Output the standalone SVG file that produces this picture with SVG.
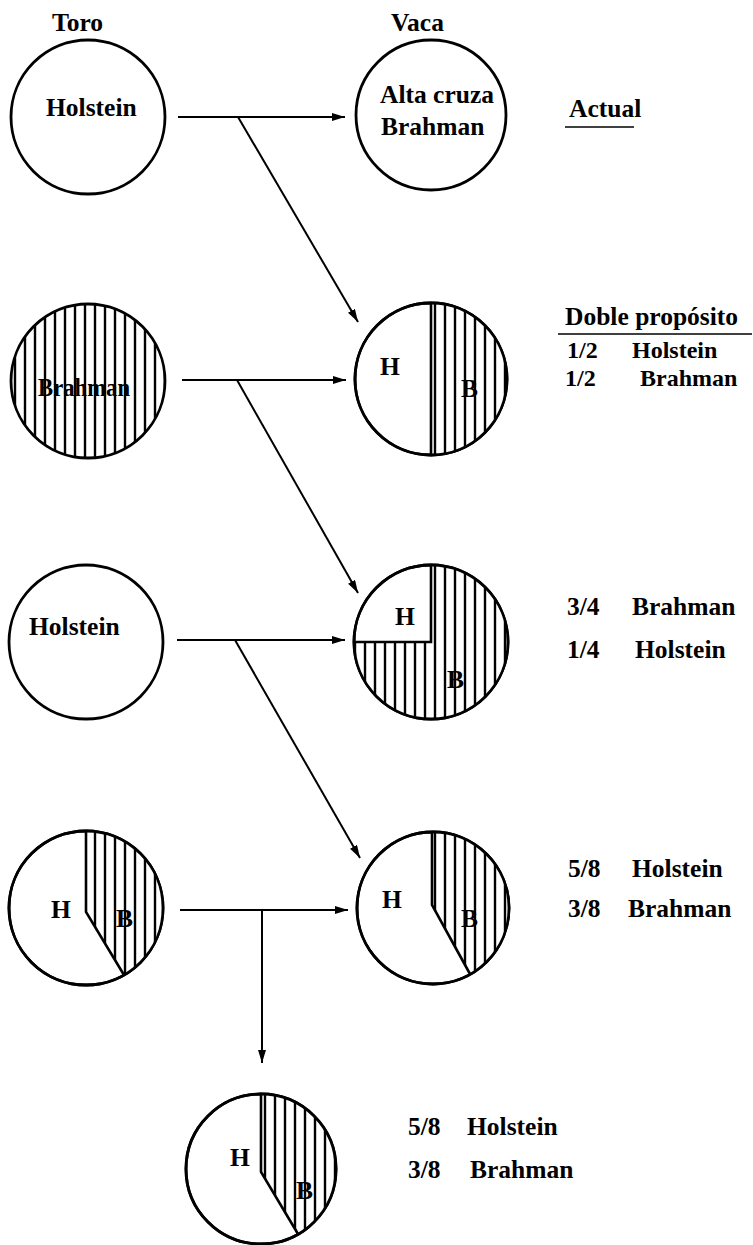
<svg xmlns="http://www.w3.org/2000/svg" width="753" height="1245" viewBox="0 0 753 1245">
<style>
.c{fill:#fff;stroke:#000;stroke-width:2.8}
.h{fill:url(#hatch);stroke:none}
.d{fill:none;stroke:#000;stroke-width:2.6}
.a{fill:none;stroke:#000;stroke-width:2}
.t{font-family:"Liberation Serif","DejaVu Serif",serif;font-weight:bold;font-size:25.5px;fill:#000}
.s{font-size:24px}
.u{stroke:#000;stroke-width:1.6}
</style>
<defs>
<pattern id="hatch" patternUnits="userSpaceOnUse" width="10" height="10">
<rect width="10" height="10" fill="#fff"/>
<line x1="5" y1="0" x2="5" y2="10" stroke="#000" stroke-width="2.4"/>
</pattern>
<marker id="arr" markerUnits="userSpaceOnUse" markerWidth="14" markerHeight="10" refX="13" refY="4" orient="auto">
<path d="M0,0 L13,4 L0,8 Z" fill="#000"/>
</marker>
</defs>

<g id="headers">
<text class="t" x="52" y="31">Toro</text>
<text class="t" x="391" y="31">Vaca</text>
</g>

<g id="toro1">
<circle class="c" cx="88" cy="117" r="77"/>
<text class="t" x="46" y="116">Holstein</text>
</g>

<g id="vaca1">
<circle class="c" cx="431" cy="115" r="75"/>
<text class="t" x="380" y="103">Alta cruza</text>
<text class="t" x="381" y="135">Brahman</text>
</g>

<g id="label-actual">
<text class="t" x="569" y="117">Actual</text>
<line class="u" x1="565" y1="127" x2="634" y2="127"/>
</g>

<g id="toro2">
<circle class="c" cx="88" cy="381" r="77" style="fill:url(#hatch)"/>
<text class="t" x="38" y="396" textLength="92" lengthAdjust="spacingAndGlyphs">Brahman</text>
</g>

<g id="vaca2">
<circle class="c" cx="431" cy="379" r="76"/>
<path class="h" d="M431,303 A76,76 0 0 1 431,455 Z"/>
<circle class="d" cx="431" cy="379" r="76" style="stroke-width:2.8"/>
<line class="d" x1="431" y1="303" x2="431" y2="455"/>
<text class="t" x="380" y="375">H</text>
<text class="t" x="461" y="397">B</text>
</g>

<g id="label-doble">
<text class="t" x="565" y="325">Doble propósito</text>
<line class="u" x1="558" y1="334" x2="752" y2="334"/>
<text class="t s" x="567" y="358">1/2</text>
<text class="t s" x="632" y="358">Holstein</text>
<text class="t s" x="565" y="386">1/2</text>
<text class="t s" x="640" y="386">Brahman</text>
</g>

<g id="toro3">
<circle class="c" cx="86" cy="642" r="77"/>
<text class="t" x="29" y="635">Holstein</text>
</g>

<g id="vaca3">
<circle class="c" cx="431" cy="642" r="77"/>
<path class="h" d="M431,565 A77,77 0 1 1 354,642 L431,642 Z"/>
<circle class="d" cx="431" cy="642" r="77" style="stroke-width:2.8"/>
<polyline class="d" points="431,565 431,642 354,642"/>
<text class="t" x="395" y="625">H</text>
<text class="t" x="447" y="688">B</text>
</g>

<g id="label-3-4">
<text class="t" x="567" y="615">3/4</text>
<text class="t" x="632" y="615">Brahman</text>
<text class="t" x="567" y="658">1/4</text>
<text class="t" x="635" y="658">Holstein</text>
</g>

<g id="toro4">
<circle class="c" cx="86" cy="908" r="77"/>
<path class="h" d="M86,831 A77,77 0 0 1 124,975 L86,912 Z"/>
<circle class="d" cx="86" cy="908" r="77" style="stroke-width:2.8"/>
<polyline class="d" points="86,831 86,912 124,975"/>
<text class="t" x="51" y="918">H</text>
<text class="t" x="116" y="927">B</text>
</g>

<g id="vaca4">
<circle class="c" cx="433" cy="908" r="76"/>
<path class="h" d="M432,832 A76,76 0 0 1 470,974 L432,905 Z"/>
<circle class="d" cx="433" cy="908" r="76" style="stroke-width:2.8"/>
<polyline class="d" points="432,832 432,905 470,974"/>
<text class="t" x="382" y="908">H</text>
<text class="t" x="461" y="927">B</text>
</g>

<g id="label-5-8-a">
<text class="t" x="568" y="877">5/8</text>
<text class="t" x="632" y="877">Holstein</text>
<text class="t" x="568" y="917">3/8</text>
<text class="t" x="628" y="917">Brahman</text>
</g>

<g id="cria">
<circle class="c" cx="261" cy="1169" r="75"/>
<path class="h" d="M261,1094 A75,75 0 0 1 298,1234 L261,1172 Z"/>
<circle class="d" cx="261" cy="1169" r="75" style="stroke-width:2.8"/>
<polyline class="d" points="261,1094 261,1172 298,1234"/>
<text class="t" x="230" y="1166">H</text>
<text class="t" x="296" y="1199">B</text>
</g>

<g id="label-5-8-b">
<text class="t" x="408" y="1135">5/8</text>
<text class="t" x="467" y="1135">Holstein</text>
<text class="t" x="408" y="1178">3/8</text>
<text class="t" x="470" y="1178">Brahman</text>
</g>

<g id="connectors">
<line class="a" x1="178" y1="117" x2="345" y2="117" marker-end="url(#arr)"/>
<line class="a" x1="238" y1="117" x2="358" y2="322" marker-end="url(#arr)"/>
<line class="a" x1="182" y1="380" x2="346" y2="380" marker-end="url(#arr)"/>
<line class="a" x1="237" y1="380" x2="358" y2="593" marker-end="url(#arr)"/>
<line class="a" x1="177" y1="640" x2="345" y2="640" marker-end="url(#arr)"/>
<line class="a" x1="235" y1="640" x2="360" y2="858" marker-end="url(#arr)"/>
<line class="a" x1="180" y1="910" x2="348" y2="910" marker-end="url(#arr)"/>
<line class="a" x1="262" y1="910" x2="262" y2="1063" marker-end="url(#arr)"/>
</g>
</svg>
